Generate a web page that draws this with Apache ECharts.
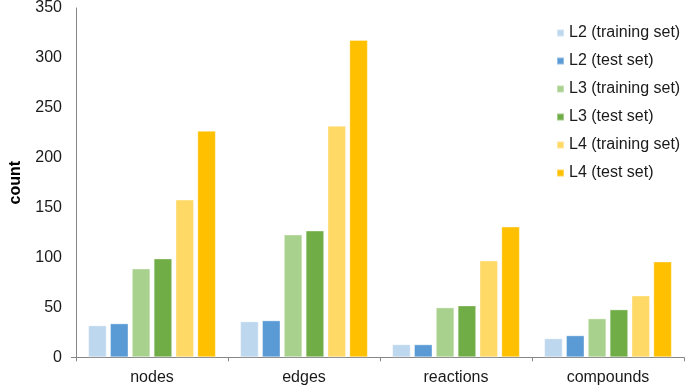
<!DOCTYPE html>
<html>
<head>
<meta charset="utf-8">
<script src="https://cdn.jsdelivr.net/npm/echarts@6/dist/echarts.min.js"></script>
<style>
html,body{margin:0;padding:0;background:#fff;}
#chart{width:685px;height:386px;}
</style>
</head>
<body>
<div id="chart"></div>
<script>
// categories and series values
var categories = ["nodes", "edges", "reactions", "compounds"];
var seriesNames = ["L2 (training set)", "L2 (test set)", "L3 (training set)", "L3 (test set)", "L4 (training set)", "L4 (test set)"];
var colors = ["#BDD7EE", "#5B9BD5", "#A9D18E", "#70AD47", "#FFD966", "#FFC000"];
var l2Train = [32, 36, 13, 19];
var l2Test = [34, 37, 13, 22];
var l3Train = [89, 123, 50, 39];
var l3Test = [99, 127, 52, 48];
var l4Train = [158, 232, 97, 62];
var l4Test = [227, 318, 131, 96];
var allData = [l2Train, l2Test, l3Train, l3Test, l4Train, l4Test];

var font = "'Liberation Sans', Arial, sans-serif";
var chart = echarts.init(document.getElementById("chart"));

var series = [];
for (var i = 0; i < seriesNames.length; i++) {
	series.push({
		name: seriesNames[i],
		type: "bar",
		data: allData[i],
		barWidth: 18.5,
		barGap: "18%",
		itemStyle: {color: colors[i], borderColor: "rgba(255,255,255,0.35)", borderWidth: 1}
	});
}

var option = {
	animation: false,
	backgroundColor: "#fff",
	textStyle: {fontFamily: font},
	grid: {left: 68, right: 1, top: 5.7, bottom: 28.7, containLabel: false},
	legend: {
		orient: "vertical",
		left: 551,
		top: 20,
		itemWidth: 7,
		itemHeight: 7,
		itemGap: 12,
		itemTextGap: 6,
		icon: "rect",
		textStyle: {fontFamily: font, fontSize: 16, color: "#1a1a1a"},
		data: seriesNames
	},
	xAxis: {
		type: "category",
		data: categories,
		axisLine: {lineStyle: {color: "#868686", width: 1}},
		axisTick: {show: true, length: 4, lineStyle: {color: "#868686"}},
		axisLabel: {fontFamily: font, fontSize: 16, color: "#1a1a1a", margin: 12}
	},
	yAxis: {
		type: "value",
		min: 0,
		max: 350,
		interval: 50,
		name: "count",
		nameLocation: "middle",
		nameRotate: 90,
		nameGap: 52,
		nameTextStyle: {fontFamily: font, fontSize: 16, fontWeight: "bold", color: "#000"},
		splitLine: {show: false},
		axisLine: {show: true, lineStyle: {color: "#868686", width: 1}},
		axisTick: {show: true, customValues: [0], length: 5, lineStyle: {color: "#868686"}},
		axisLabel: {fontFamily: font, fontSize: 16, color: "#1a1a1a", margin: 14}
	},
	series: series
};
chart.setOption(option, true);
</script>
</body>
</html>
